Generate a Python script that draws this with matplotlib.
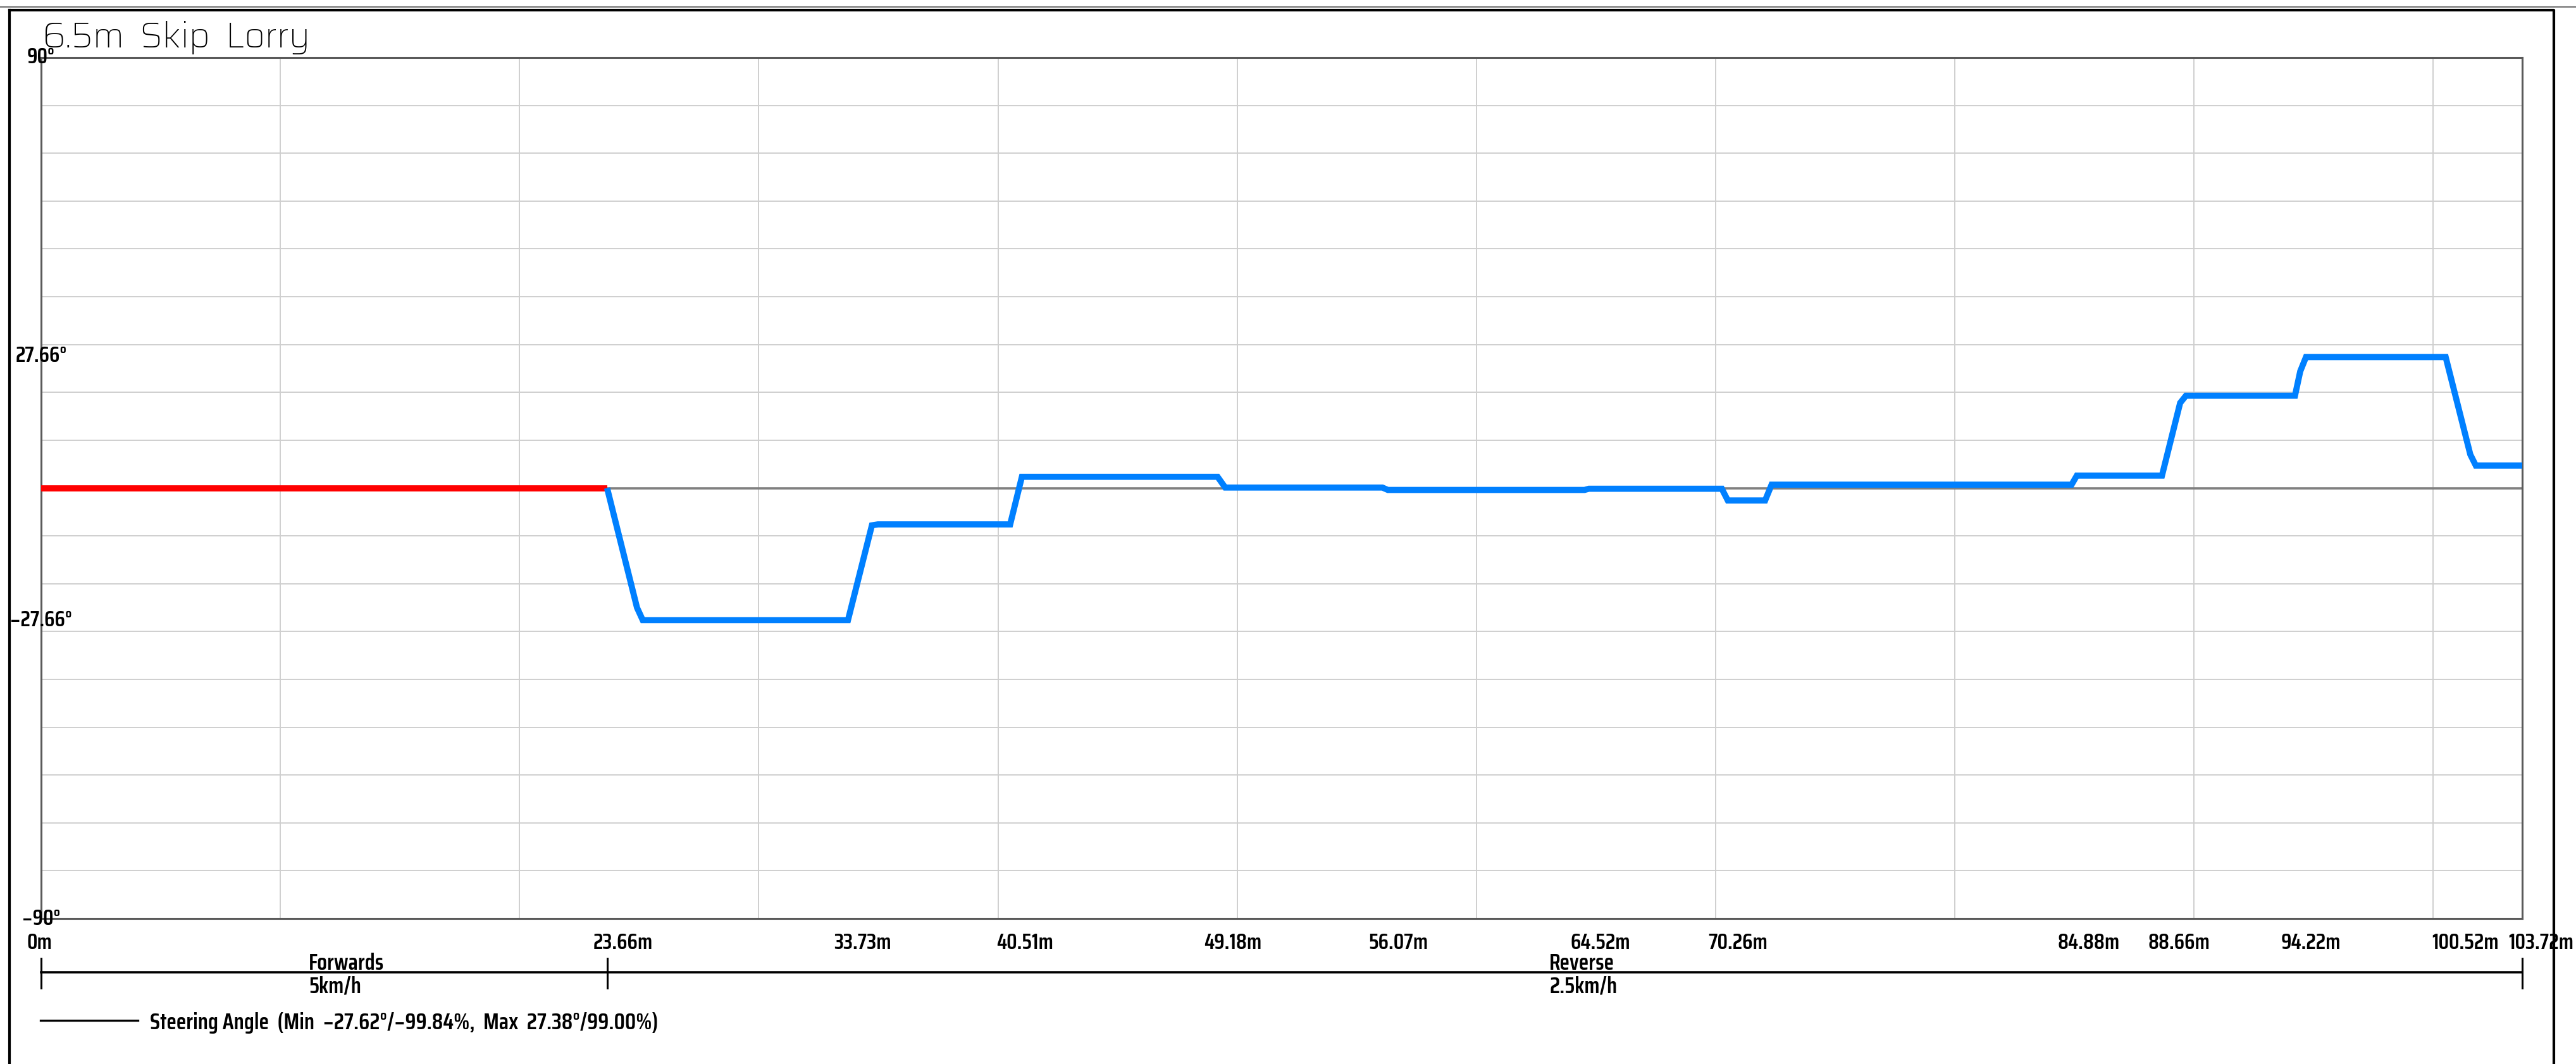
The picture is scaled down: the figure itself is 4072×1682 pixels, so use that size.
import matplotlib
matplotlib.use("Agg")
import matplotlib.pyplot as plt
import matplotlib.transforms as mtransforms
from matplotlib import font_manager
import numpy as np

# ---------------- data ----------------
title = "6.5m  Skip  Lorry"
forward_x = [0.0, 23.66]
forward_y = [0.0, 0.0]
reverse_x = [23.66, 24.91, 25.15, 33.73, 34.73, 34.98, 40.51, 41.00, 49.18, 49.50,
             56.07, 56.30, 64.52, 64.70, 70.26, 70.51, 72.07, 72.34, 84.88, 85.10,
             88.66, 89.42, 89.66, 94.22, 94.44, 94.68, 100.52, 101.55, 101.78, 103.72]
reverse_y = [0.0, -25.0, -27.62, -27.62, -7.8, -7.6, -7.6, 2.35, 2.35, 0.1,
             0.1, -0.4, -0.4, -0.15, -0.15, -2.6, -2.6, 0.7, 0.7, 2.6,
             2.6, 17.8, 19.3, 19.3, 24.4, 27.38, 27.38, 7.0, 4.7, 4.7]
x_tick_values = [0, 23.66, 33.73, 40.51, 49.18, 56.07, 64.52, 70.26, 84.88, 88.66, 94.22, 100.52, 103.72]
x_tick_labels = ["0m", "23.66m", "33.73m", "40.51m", "49.18m", "56.07m", "64.52m", "70.26m",
                 "84.88m", "88.66m", "94.22m", "100.52m", "103.72m"]
y_label_values = [90, 27.66, -27.66, -90]
y_label_texts = ["90°", "27.66°", "\u221227.66°", "\u221290°"]
segment_bounds = [0, 23.66, 103.72]
segment_names = ["Forwards", "Reverse"]
segment_speeds = ["5km/h", "2.5km/h"]
legend_text = "Steering Angle  (Min  \u221227.62°/\u221299.84%,  Max  27.38°/99.00%)"
x_max = 103.72

# ---------------- figure ----------------
W, H, DPI = 4072, 1682, 100
fig = plt.figure(figsize=(W / DPI, H / DPI), dpi=DPI)
names = {f.name for f in font_manager.fontManager.ttflist}

def pick(*cands):
    for c in cands:
        if c in names:
            return c
    return "DejaVu Sans"

label_family = pick("Saira Condensed", "Saira SemiCondensed", "Saira ExtraCondensed")
title_family = pick("Saira", "Saira SemiCondensed", "Saira Condensed")
plt.rcParams["font.family"] = [label_family, "DejaVu Sans"]

def fx(px):
    return px / W

def fy(py):
    return 1 - py / H

ax = fig.add_axes([fx(65), fy(1452), fx(3987) - fx(65), fy(91) - fy(1452)])
ax.set_xlim(0, x_max)
ax.set_ylim(-90, 90)
ax.set_xticks(np.arange(0, x_max, 10))
ax.set_yticks(np.arange(-90, 91, 10))
ax.tick_params(length=0, labelbottom=False, labelleft=False)
ax.grid(True, color="#cfcfcf", lw=1.4)
for s in ax.spines.values():
    s.set_color("#5a5a5a")
    s.set_linewidth(2.2)
ax.axhline(0, color="#808080", lw=2.6, zorder=2)

ax.plot(forward_x, forward_y, color="#ff0000", lw=7.0, solid_joinstyle="miter",
        solid_capstyle="butt", zorder=3)
ax.plot(reverse_x, reverse_y, color="#0080ff", lw=7.0, solid_joinstyle="miter",
        solid_capstyle="butt", zorder=3)

tick_font = dict(family=[label_family, "DejaVu Sans"], fontsize=25, fontweight=600)
seg_font = dict(family=[label_family, "DejaVu Sans"], fontsize=26, fontweight=600)
leg_font = dict(family=[label_family, "DejaVu Sans"], fontsize=26, fontweight=600)

ylab_tr = mtransforms.blended_transform_factory(ax.transAxes, ax.transData)
for v, t in zip(y_label_values, y_label_texts):
    ax.text(0, v, t, transform=ylab_tr, ha="center", va="center", zorder=5, **tick_font)

xfig = mtransforms.blended_transform_factory(ax.transData, fig.transFigure)
for v, t in zip(x_tick_values, x_tick_labels):
    ax.annotate(t, xy=(v, fy(1500)), xycoords=xfig, xytext=(-22, 0),
                textcoords="offset pixels", ha="left", va="baseline",
                annotation_clip=False, **tick_font)

# direction bar
ax.plot([segment_bounds[0], segment_bounds[-1]], [fy(1537)] * 2, transform=xfig,
        color="black", lw=2.6, clip_on=False)
for b in segment_bounds:
    ax.plot([b, b], [fy(1515), fy(1562)], transform=xfig, color="black", lw=2.2, clip_on=False)
for i, (n, sp) in enumerate(zip(segment_names, segment_speeds)):
    c = (segment_bounds[i] + segment_bounds[i + 1]) / 2
    ax.annotate(n, xy=(c, fy(1533)), xycoords=xfig, xytext=(-24, 0), textcoords="offset pixels",
                ha="left", va="baseline", annotation_clip=False, **seg_font)
    ax.annotate(sp, xy=(c, fy(1569)), xycoords=xfig, xytext=(-24, 0), textcoords="offset pixels",
                ha="left", va="baseline", annotation_clip=False, **seg_font)

# legend
fig.add_artist(plt.Line2D([fx(64), fx(218)], [fy(1613)] * 2, color="black", lw=2.4))
fig.text(fx(237), fy(1627), legend_text, ha="left", va="baseline", **leg_font)

# title
fig.text(fx(67), fy(75), title, ha="left", va="baseline", fontsize=40, color="black",
         family=[title_family, "DejaVu Sans"], fontweight=300)

# outer frame
fig.add_artist(plt.Line2D([0, 1], [fy(11)] * 2, color="#707070", lw=1.5))
fig.add_artist(plt.Line2D([fx(15), fx(4037), fx(4037)], [fy(16), fy(16), 0], color="black", lw=3))
fig.add_artist(plt.Line2D([fx(15), fx(15)], [fy(16), 0], color="black", lw=3))

fig.savefig("out.png", dpi=DPI)
